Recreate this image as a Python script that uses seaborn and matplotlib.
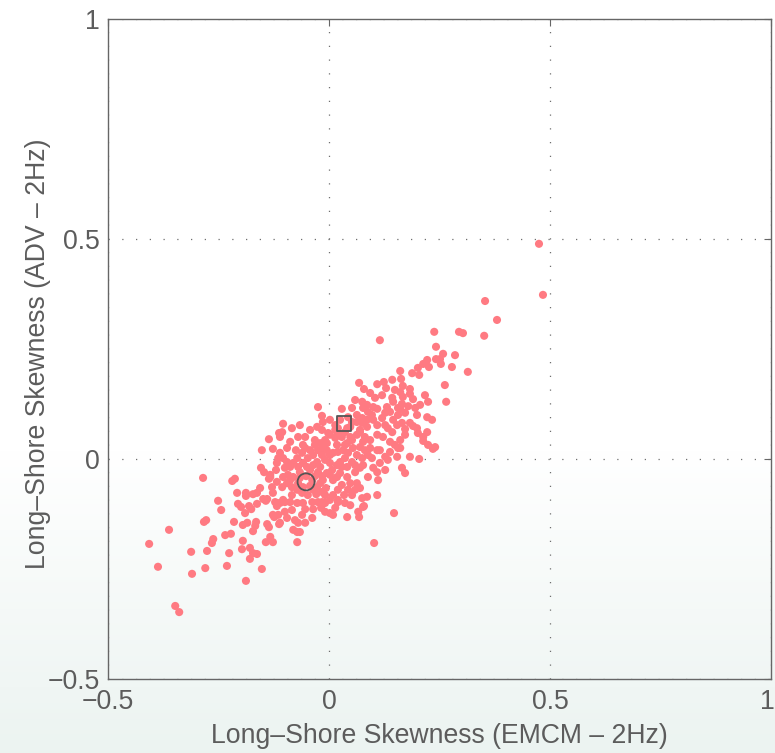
import numpy as np
import pandas as pd
import matplotlib
matplotlib.use("Agg")
import matplotlib.pyplot as plt
from matplotlib.transforms import ScaledTranslation
import seaborn as sns

# Long-shore skewness, EMCM (x) against ADV (y), 2 Hz records
emcm = [
    # sparse lower-left tail
    -0.113, -0.136, -0.152, -0.127, -0.154, -0.147, -0.133, -0.136, -0.285, -0.219,
    -0.213, -0.118, -0.129, -0.156, -0.163, -0.172, -0.188, -0.188, -0.208, -0.127,
    -0.251, -0.149, -0.140, -0.118, -0.206, -0.199, -0.181, -0.163, -0.244, -0.176,
    -0.143, -0.118, -0.190, -0.278, -0.283, -0.215, -0.195, -0.185, -0.165, -0.167,
    -0.172, -0.140, -0.136, -0.124, -0.115, -0.113, -0.362, -0.407, -0.235, -0.222,
    -0.262, -0.265, -0.195, -0.133, -0.143, -0.127, -0.312, -0.276, -0.226, -0.197,
    -0.179, -0.172, -0.163, -0.179, -0.387, -0.280, -0.231, -0.152, -0.310, -0.188,
    -0.348, -0.339,
    # lower centre
    -0.122, -0.111, -0.100, -0.127, -0.111, -0.100, -0.095, -0.084, -0.077, -0.070,
    -0.081, -0.072, -0.066, -0.072, -0.059, -0.038, -0.036, -0.054, -0.018, -0.009,
    0.002, 0.009, 0.014, 0.020, -0.016, -0.038, -0.054, 0.041, 0.066, 0.068,
    0.079, 0.147, 0.102,
    # dense core
    -0.106, -0.111, -0.088, -0.059, -0.054, -0.043, -0.036, -0.020, -0.014, 0.002,
    0.014, 0.020, 0.029, 0.041, 0.052, 0.063, 0.070, 0.081, 0.093, 0.109,
    -0.005, 0.002, 0.009, 0.020, 0.032, 0.043, 0.054, 0.070, 0.081, 0.093,
    0.109, -0.009, 0.002, 0.018, 0.025, 0.036, 0.052, 0.059, 0.041, 0.075,
    0.077, 0.088, -0.111, -0.104, -0.095, -0.088, -0.081, -0.072, -0.070, -0.066,
    -0.059, -0.050, -0.043, -0.036, -0.027, -0.025, -0.020, -0.104, -0.093, -0.081,
    -0.095, -0.106, -0.084, -0.072, -0.061, -0.048, -0.036, -0.027, -0.020, -0.014,
    -0.005, 0.002, 0.009, 0.018, 0.025, 0.041, 0.048, 0.063, 0.070, 0.043,
    0.009, 0.020, -0.104, -0.088, -0.072, -0.025, -0.009, 0.002, 0.075, 0.086,
    0.077,
    # right flank of the core
    0.115, 0.127, 0.133, 0.156, 0.154, 0.183, 0.165, 0.172, 0.100, 0.109,
    0.111, 0.109,
    # upper core
    0.161, 0.188, 0.204, 0.068, 0.079, 0.109, 0.124, 0.129, 0.163, 0.167,
    0.120, 0.161, 0.183, 0.190, 0.224, 0.075, 0.086, 0.100, 0.077, 0.088,
    0.109, 0.145, 0.156, 0.165, 0.138, 0.127, 0.172, 0.156, 0.199, 0.222,
    0.029, 0.052, 0.063, 0.075, 0.063, 0.075, 0.086, 0.100, 0.048, 0.070,
    0.086, 0.109, 0.048, 0.077, 0.122, 0.133, 0.143, 0.154, 0.165, 0.172,
    0.183, 0.172, 0.161, 0.149, 0.138, 0.199, 0.201, 0.213, 0.222, 0.224,
    0.240, 0.018, 0.036,
    # left shoulder
    -0.104, -0.025, -0.016, -0.027, -0.014, -0.002, -0.061, -0.115, -0.133, -0.066,
    -0.043, -0.054, 0.104, 0.131,
    # upper arm
    0.115, 0.201, 0.183, 0.167, 0.353, 0.380, 0.238, 0.294, 0.303, 0.351,
    0.242, 0.258, 0.285, 0.222, 0.213, 0.242, 0.251, 0.253, 0.226, 0.278,
    0.314, 0.262, 0.179, 0.161, 0.265, 0.190, 0.213, 0.235, 0.161, 0.204,
    0.475, 0.484,
    # around the two highlighted records and the middle of the cloud
    -0.066, -0.052, -0.038, -0.043, -0.059, -0.070, -0.032,
    0.025, 0.041, 0.020, 0.036, 0.052, 0.014, 0.043, 0.002,
    -0.009, -0.025, -0.032, -0.016, -0.048, -0.075, -0.100, -0.118, -0.084, -0.016,
    -0.007, 0.029, 0.020, 0.059, 0.070, 0.052, 0.036, 0.127, 0.138, 0.097,
    0.115, 0.145, 0.120, 0.206, 0.217, 0.233, 0.149, 0.143, 0.093, 0.059,
    -0.032, -0.005, 0.014, -0.016, 0.063, 0.029, 0.007, -0.016, -0.029, -0.009,
    0.034, 0.059, -0.088, -0.120, -0.095, -0.070, -0.084, 0.097, 0.127, 0.143,
    0.195, 0.088, 0.048, -0.061,
]

adv = [
    0.059, 0.045, 0.020, 0.023, -0.020, -0.030, -0.036, -0.045, -0.043, -0.050,
    -0.045, -0.052, -0.064, -0.066, -0.077, -0.080, -0.077, -0.084, -0.077, -0.077,
    -0.095, -0.091, -0.091, -0.100, -0.102, -0.109, -0.107, -0.102, -0.116, -0.114,
    -0.095, -0.107, -0.123, -0.139, -0.143, -0.143, -0.150, -0.145, -0.143, -0.152,
    -0.164, -0.148, -0.155, -0.132, -0.127, -0.148, -0.161, -0.193, -0.173, -0.170,
    -0.182, -0.191, -0.186, -0.177, -0.189, -0.189, -0.211, -0.209, -0.214, -0.205,
    -0.202, -0.214, -0.216, -0.227, -0.245, -0.248, -0.243, -0.250, -0.261, -0.277,
    -0.334, -0.348,
    -0.098, -0.100, -0.098, -0.127, -0.145, -0.120, -0.134, -0.116, -0.139, -0.145,
    -0.161, -0.166, -0.166, -0.189, -0.100, -0.098, -0.114, -0.114, -0.111, -0.120,
    -0.123, -0.127, -0.111, -0.098, -0.098, -0.134, -0.145, -0.132, -0.120, -0.132,
    -0.107, -0.123, -0.191,
    0.061, 0.050, 0.039, 0.032, 0.025, 0.020, 0.009, 0.036, 0.025, 0.055,
    0.048, 0.059, 0.050, 0.036, 0.043, 0.055, 0.061, 0.050, 0.043, 0.055,
    0.020, 0.009, 0.014, 0.016, 0.020, 0.014, 0.025, 0.027, 0.020, 0.025,
    0.020, -0.002, -0.009, -0.014, -0.007, 0.002, -0.007, -0.014, -0.018, 0.002,
    -0.014, -0.041, 0.014, 0.002, -0.007, -0.018, -0.009, 0.002, -0.018, -0.030,
    -0.009, -0.018, -0.025, -0.014, -0.007, -0.030, -0.018, -0.041, -0.036, -0.041,
    -0.055, -0.064, -0.064, -0.070, -0.077, -0.082, -0.070, -0.064, -0.055, -0.048,
    -0.032, -0.036, -0.048, -0.041, -0.032, -0.041, -0.055, -0.055, -0.066, -0.070,
    -0.082, -0.093, -0.093, -0.098, -0.100, -0.098, -0.100, -0.093, -0.089, -0.086,
    -0.109,
    0.020, 0.005, -0.002, 0.025, 0.005, 0.005, -0.020, -0.032, -0.020, -0.030,
    -0.048, -0.082,
    0.200, 0.195, 0.191, 0.173, 0.159, 0.170, 0.175, 0.161, 0.182, 0.166,
    0.145, 0.152, 0.148, 0.136, 0.130, 0.130, 0.123, 0.118, 0.116, 0.107,
    0.114, 0.130, 0.116, 0.125, 0.107, 0.105, 0.105, 0.100, 0.100, 0.095,
    0.114, 0.116, 0.100, 0.093, 0.084, 0.082, 0.089, 0.089, 0.073, 0.066,
    0.073, 0.077, 0.050, 0.039, 0.050, 0.070, 0.061, 0.077, 0.082, 0.068,
    0.082, 0.055, 0.043, 0.032, 0.039, 0.070, 0.059, 0.050, 0.061, 0.032,
    0.027, 0.032, 0.032,
    0.080, 0.118, 0.098, 0.073, 0.084, 0.059, 0.014, 0.002, -0.041, 0.077,
    0.066, 0.050, 0.139, 0.118,
    0.270, 0.207, 0.159, 0.141, 0.359, 0.316, 0.289, 0.289, 0.286, 0.280,
    0.255, 0.239, 0.236, 0.225, 0.216, 0.227, 0.227, 0.216, 0.209, 0.209,
    0.198, 0.168, 0.120, 0.114, 0.130, 0.075, 0.041, 0.023, 0.025, 0.000,
    0.489, 0.373,
    -0.043, -0.039, -0.048, -0.061, -0.064, -0.055, -0.039,
    0.089, 0.070, 0.070, 0.061, 0.084, 0.077, 0.095, 0.089,
    0.043, 0.020, 0.043, 0.009, 0.002, 0.020, -0.020, -0.009, -0.082, -0.075,
    -0.066, -0.059, -0.070, -0.030, -0.020, -0.082, -0.100, -0.025, 0.016, 0.002,
    -0.009, 0.089, 0.093, 0.123, 0.145, 0.089, 0.157, 0.180, 0.150, 0.134,
    0.032, 0.036, 0.066, 0.066, 0.009, -0.018, -0.025, -0.039, -0.080, -0.082,
    -0.082, -0.070, -0.048, -0.025, 0.025, 0.050, 0.070, 0.100, 0.077, 0.139,
    0.116, 0.009, -0.105, -0.127,
]

# Two highlighted records
circle_pt = ([-0.052], [-0.052])
square_pt = ([0.034], [0.080])

ticks = [-0.5, 0, 0.5, 1]
tick_labels = ["\u22120.5", "0", "0.5", "1"]
x_label = "Long\u2013Shore Skewness (EMCM \u2013 2Hz)"
y_label = "Long\u2013Shore Skewness (ADV \u2013 2Hz)"

sns.set_style("white")
plt.rcParams["font.family"] = ["Liberation Sans", "DejaVu Sans"]

TEXT = "#5c5c5c"
EDGE = "#666666"
FS = 19.2

fig = plt.figure(figsize=(7.75, 7.53), dpi=100)

# faint paper tint that deepens toward the bottom edge
bg = fig.add_axes([0, 0, 1, 1], zorder=-5)
t = np.clip((np.linspace(0, 1, 400) - 0.6) / 0.4, 0, 1)[:, None]
top_c = np.array([1.0, 1.0, 1.0])
bot_c = np.array([0.925, 0.955, 0.945])
grad = top_c[None, None, :] * (1 - t[..., None]) + bot_c[None, None, :] * t[..., None]
grad = np.repeat(grad, 2, axis=1)
bg.imshow(grad, aspect="auto", extent=[0, 1, 0, 1], origin="upper")
bg.set_axis_off()

ax = fig.add_axes([0.1394, 0.0983, 0.8555, 0.8765])
ax.set_facecolor("none")

df = pd.DataFrame({"emcm": emcm, "adv": adv})
sns.scatterplot(data=df, x="emcm", y="adv", ax=ax, s=34, color="#ff7a82",
                edgecolor="none", linewidth=0, zorder=3)

ax.scatter(*circle_pt, s=150, facecolors="none", edgecolors="#555555",
           linewidths=1.3, marker="o", zorder=4)
ax.scatter(*square_pt, s=110, facecolors="none", edgecolors="#555555",
           linewidths=1.3, marker="s", zorder=4)

ax.set_xlim(-0.5, 1)
ax.set_ylim(-0.5, 1)
ax.set_xticks(ticks)
ax.set_yticks(ticks)
ax.set_xticklabels(tick_labels)
ax.set_yticklabels(tick_labels)

ax.grid(True, linestyle=(0, (1, 10)), color="#6f6f6f", linewidth=0.9, zorder=1)
ax.set_axisbelow(True)

for sp in ax.spines.values():
    sp.set_visible(True)
    sp.set_color(EDGE)
    sp.set_linewidth(1.0)

ax.tick_params(direction="in", length=5, width=0.8, color=EDGE,
               labelsize=FS, labelcolor=TEXT, top=True, right=True)
ax.tick_params(axis="x", pad=7)
ax.tick_params(axis="y", pad=6)

# keep the rightmost x label inside the canvas
last = ax.get_xticklabels()[-1]
last.set_transform(last.get_transform() + ScaledTranslation(-4 / 100, 0, fig.dpi_scale_trans))

ax.set_xlabel(x_label, fontsize=FS, color=TEXT)
ax.set_ylabel(y_label, fontsize=FS, color=TEXT)
ax.xaxis.set_label_coords(0.5, -0.0864)
ax.xaxis.label.set_verticalalignment("center")
ax.yaxis.set_label_coords(-0.105, 0.493)
ax.yaxis.label.set_verticalalignment("center")

fig.savefig("out.png", dpi=100)
